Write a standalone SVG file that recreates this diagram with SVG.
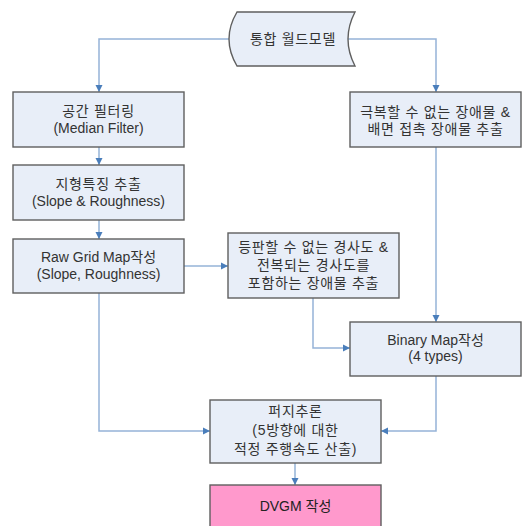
<svg xmlns="http://www.w3.org/2000/svg" width="529" height="526" viewBox="0 0 529 526">
  <defs>
    <marker id="arr" markerUnits="userSpaceOnUse" markerWidth="8" markerHeight="8" refX="7" refY="4" orient="auto">
      <path d="M0,0.5 L7,4 L0,7.5 Z" fill="#4A7EBB"/>
    </marker>
    <style>
      .box { fill: #E8EEF8; stroke: #5F5F5F; stroke-width: 1.4; }
      .pink { fill: #FF99CC; stroke: #5F5F5F; stroke-width: 1.4; }
      .conn { fill: none; stroke: #95B3D7; stroke-width: 1.5; marker-end: url(#arr); }
      text { font-family: "Liberation Sans", "Noto Sans CJK KR", sans-serif; font-size: 14px; fill: #333; text-anchor: middle; }
      .ko { letter-spacing: 0.7px; }
    </style>
  </defs>
  <rect width="529" height="526" fill="#FFFFFF"/>

  <g id="connectors">
    <path class="conn" d="M229,39 H99 V92"/>
    <path class="conn" d="M348,39 H436 V92"/>
    <path class="conn" d="M99,147 V165"/>
    <path class="conn" d="M99,220 V239"/>
    <path class="conn" d="M184,266 H228"/>
    <path class="conn" d="M436,147 V322"/>
    <path class="conn" d="M313,298 V348 H350"/>
    <path class="conn" d="M99,293 V431 H210"/>
    <path class="conn" d="M436,376 V431 H381"/>
    <path class="conn" d="M295,463 V485"/>
  </g>

  <g id="world-model">
    <path class="box" d="M237,12 H355 Q341,39 355,66 H237 Q221,39 237,12 Z"/>
    <text class="ko" x="293" y="44">통합 월드모델</text>
  </g>

  <g id="spatial-filter">
    <rect class="box" x="13" y="92" width="171" height="55"/>
    <text class="ko" x="98.5" y="116">공간 필터링</text>
    <text x="98.5" y="133">(Median Filter)</text>
  </g>

  <g id="obstacle-extract">
    <rect class="box" x="350" y="92" width="171" height="55"/>
    <text class="ko" x="435.5" y="116.5">극복할 수 없는 장애물 &amp;</text>
    <text class="ko" x="435.5" y="133.5">배면 접촉 장애물 추출</text>
  </g>

  <g id="terrain-feature">
    <rect class="box" x="13" y="165" width="171" height="55"/>
    <text class="ko" x="98.5" y="188.5">지형특징 추출</text>
    <text x="98.5" y="206">(Slope &amp; Roughness)</text>
  </g>

  <g id="raw-grid-map">
    <rect class="box" x="13" y="239" width="171" height="54"/>
    <text x="98.5" y="262">Raw Grid Map작성</text>
    <text x="98.5" y="279">(Slope, Roughness)</text>
  </g>

  <g id="slope-obstacle">
    <rect class="box" x="228" y="233" width="171" height="65"/>
    <text class="ko" x="313.5" y="252">등판할 수 없는 경사도 &amp;</text>
    <text class="ko" x="313.5" y="269.5">전복되는 경사도를</text>
    <text class="ko" x="313.5" y="288">포함하는 장애물 추출</text>
  </g>

  <g id="binary-map">
    <rect class="box" x="350" y="322" width="171" height="54"/>
    <text x="435.5" y="344.5">Binary Map작성</text>
    <text x="435.5" y="361">(4 types)</text>
  </g>

  <g id="fuzzy">
    <rect class="box" x="210" y="400" width="171" height="63"/>
    <text class="ko" x="295.5" y="415.5">퍼지추론</text>
    <text class="ko" x="295.5" y="435">(5방향에 대한</text>
    <text class="ko" x="295.5" y="454">적정 주행속도 산출)</text>
  </g>

  <g id="dvgm">
    <rect class="pink" x="210" y="485" width="171" height="50"/>
    <text x="295.5" y="511" style="fill:#222">DVGM 작성</text>
  </g>
</svg>
